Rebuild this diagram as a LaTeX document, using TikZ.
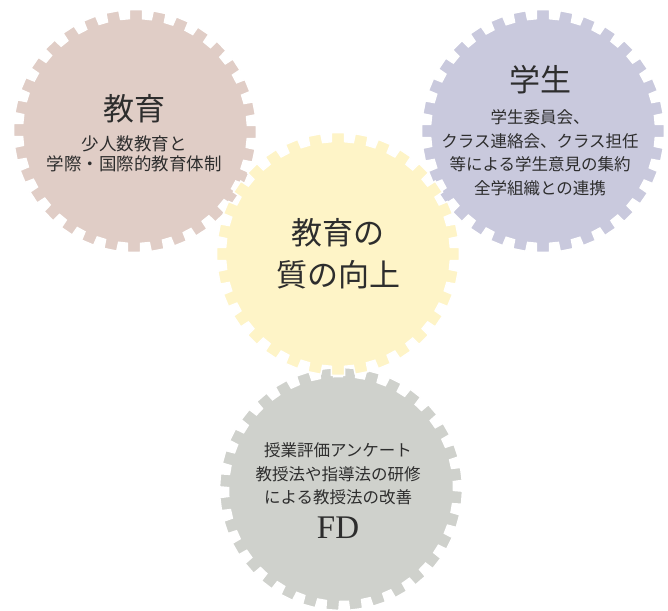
\documentclass[tikz,border=0pt]{standalone}
\usepackage{fontspec}
\newfontfamily\jpfont{Noto Sans CJK JP}
\newfontfamily\fdfont{Liberation Serif}
\definecolor{gearbrown}{RGB}{224,205,198}
\definecolor{gearpurple}{RGB}{201,201,221}
\definecolor{gearyellow}{RGB}{254,244,199}
\definecolor{geargray}{RGB}{207,209,204}
\definecolor{textgray}{RGB}{45,45,45}
\begin{document}
\begin{tikzpicture}[x=1pt,y=-1pt]
        % Styles
        \tikzstyle{gear}=[draw=white,line width=1.5pt,line join=miter]
        \tikzstyle{big text}=[font=\jpfont\fontsize{31}{42}\selectfont,align=center,text=textgray,inner sep=0pt]
        \tikzstyle{small text}=[font=\jpfont\fontsize{16.5}{23.5}\selectfont,align=center,text=textgray,inner sep=0pt]
        %The graphic
        \useasboundingbox (0,0) rectangle (668,610);
        %gears
        \foreach \cx/\cy/\off/\col in {135/131/0.5/gearbrown, 543/131/0/gearpurple, 341/489/4.1/geargray, 338/254/0/gearyellow}
            \filldraw[gear,fill=\col,shift={(\cx,\cy)}] (\off-3.4:112.5)
            \foreach \i in {0,...,31} { -- (\off+\i*11.25-3.4:112.5) -- (\off+\i*11.25-3.1:121.5) -- (\off+\i*11.25+3.1:121.5) -- (\off+\i*11.25+3.4:112.5) } -- cycle;
        %texts
        \node[big text] (kyoiku) at (134,109) {教育};
        \node[small text,font=\jpfont\fontsize{17.5}{19.5}\selectfont] (kyoiku text) at (134,154) {少人数教育と\\学際・国際的教育体制};
        \node[big text] (gakusei) at (540,80) {学生};
        \node[small text] (gakusei text) at (540,152.5) {学生委員会、\\クラス連絡会、クラス担任\\等による学生意見の集約\\全学組織との連携};
        \node[big text] (shitsu) at (338,254) {教育の\\質の向上};
        \node[small text] (fd text) at (338,474) {授業評価アンケート\\教授法や指導法の研修\\による教授法の改善};
        \node[text=textgray,font=\fdfont\fontsize{33}{36}\selectfont,inner sep=0pt] (fd) at (338,528) {FD};
\end{tikzpicture}
\end{document}
